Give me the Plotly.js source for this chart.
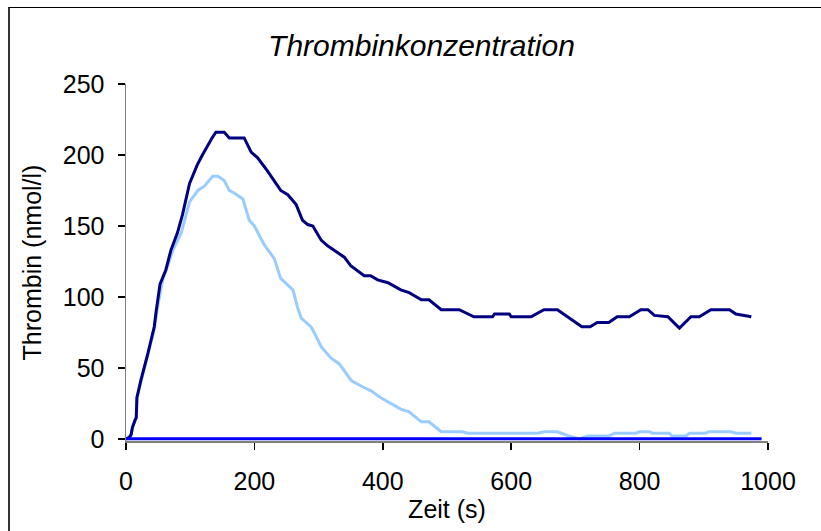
<!DOCTYPE html>
<html>
<head>
<meta charset="utf-8">
<script src="https://cdn.plot.ly/plotly-3.0.1.min.js"></script>
<style>
  html, body { margin: 0; padding: 0; background: #fff; }
  #wrap { position: relative; width: 821px; height: 531px; overflow: hidden; }
  #chart { position: absolute; left: 0; top: 0; width: 821px; height: 531px; }
  #frame { position: absolute; left: 8px; top: 7px; width: 830px; height: 540px;
           border-left: 2px solid #333; border-top: 1px solid #000; pointer-events: none; }
</style>
</head>
<body>
<div id="wrap">
  <div id="chart"></div>
  <div id="frame"></div>
</div>
<script>
// Time axis values (s) and thrombin concentrations (nmol/l)
const timeDark = [0,5,8,10,14,16,17,23,34,44,47,53,62,70,80,88,99,111,119,127,134,140,153,161,184,195,205,220,231,241,252,265,275,283,291,304,314,324,340,350,371,381,392,408,428,441,460,472,491,519,542,571,574,597,600,631,651,672,688,710,723,734,752,765,784,802,813,823,844,862,880,893,911,940,950,960,974];
const thrombinDark = [0,1,3,8,13,15,29,41,60,79,90,109,119,133,145,158,180,193,200,207,212,216,216,212,212,202,198,189,182,175,172,165,154,151,150,140,136,133,128,122,115,115,112,110,105,103,98,98,91,91,86,86,88,88,86,86,91,91,86,79,79,82,82,86,86,91,91,87,86,78,86,86,91,91,88,87,86];

const timeLight = [0,5,8,10,14,16,17,23,34,44,50,57,65,73,86,99,112,122,135,143,153,161,169,182,192,200,215,221,231,241,260,267,273,288,293,304,319,332,351,371,381,397,408,428,441,460,472,491,524,532,641,652,672,690,706,719,752,761,794,800,815,820,846,851,872,878,903,908,942,950,974];
const thrombinLight = [0,1,3,8,13,15,29,40,58,77,95,112,122,133,145,167,175,178,185,185,182,175,173,169,154,150,137,133,127,113,105,93,85,79,75,65,57,53,41,36,34,29,26,21,19,12,12,5,5,4,4,5,5,2,0,2,2,4,4,5,5,4,4,2,2,4,4,5,5,4,4];

const timeBase = [0, 990];
const thrombinBase = [0, 0];

const xTicks = [0, 200, 400, 600, 800, 1000];
const yTicks = [0, 50, 100, 150, 200, 250];

const FONT = "Liberation Sans, Arial, Helvetica, sans-serif";

const traces = [
  { x: timeLight, y: thrombinLight, type: 'scatter', mode: 'lines',
    line: { color: '#99CCFF', width: 3 }, hoverinfo: 'skip' },
  { x: timeDark, y: thrombinDark, type: 'scatter', mode: 'lines',
    line: { color: '#000080', width: 3 }, hoverinfo: 'skip' },
  { x: timeBase, y: thrombinBase, type: 'scatter', mode: 'lines',
    line: { color: '#0000FF', width: 3 }, hoverinfo: 'skip' }
];

const layout = {
  width: 821, height: 531,
  margin: { l: 126, r: 53, t: 84, b: 90 },
  paper_bgcolor: 'rgba(0,0,0,0)', plot_bgcolor: '#fff',
  showlegend: false,
  font: { family: FONT, color: '#000', size: 25 },
  title: {
    text: '<i>Thrombinkonzentration</i>',
    font: { family: FONT, size: 30, color: '#000' },
    xref: 'container', yref: 'container',
    x: 0.5134, xanchor: 'center', y: 0.915, yanchor: 'middle'
  },
  xaxis: {
    range: [0, 1000], tickvals: xTicks, ticktext: xTicks.map(String),
    showgrid: false, zeroline: false, layer: 'below traces',
    showline: true, linecolor: '#808080', linewidth: 1.5,
    ticks: 'outside', ticklen: 7, tickcolor: '#000', tickwidth: 1.5,
    ticklabelstandoff: 10,
    tickfont: { family: FONT, size: 25, color: '#000' },
    title: { text: 'Zeit (s)', font: { family: FONT, size: 25, color: '#000' }, standoff: 7 }
  },
  yaxis: {
    range: [-1.5, 250], tickvals: yTicks, ticktext: yTicks.map(String),
    showgrid: false, zeroline: false, layer: 'below traces',
    showline: true, linecolor: '#808080', linewidth: 1.5,
    ticks: 'outside', ticklen: 7, tickcolor: '#000', tickwidth: 1.5,
    ticklabelstandoff: 8,
    tickfont: { family: FONT, size: 25, color: '#000' },
    title: { text: 'Thrombin (nmol/l)', font: { family: FONT, size: 25, color: '#000' }, standoff: 14 }
  }
};

Plotly.newPlot('chart', traces, layout, { staticPlot: true, displayModeBar: false });
</script>
</body>
</html>
